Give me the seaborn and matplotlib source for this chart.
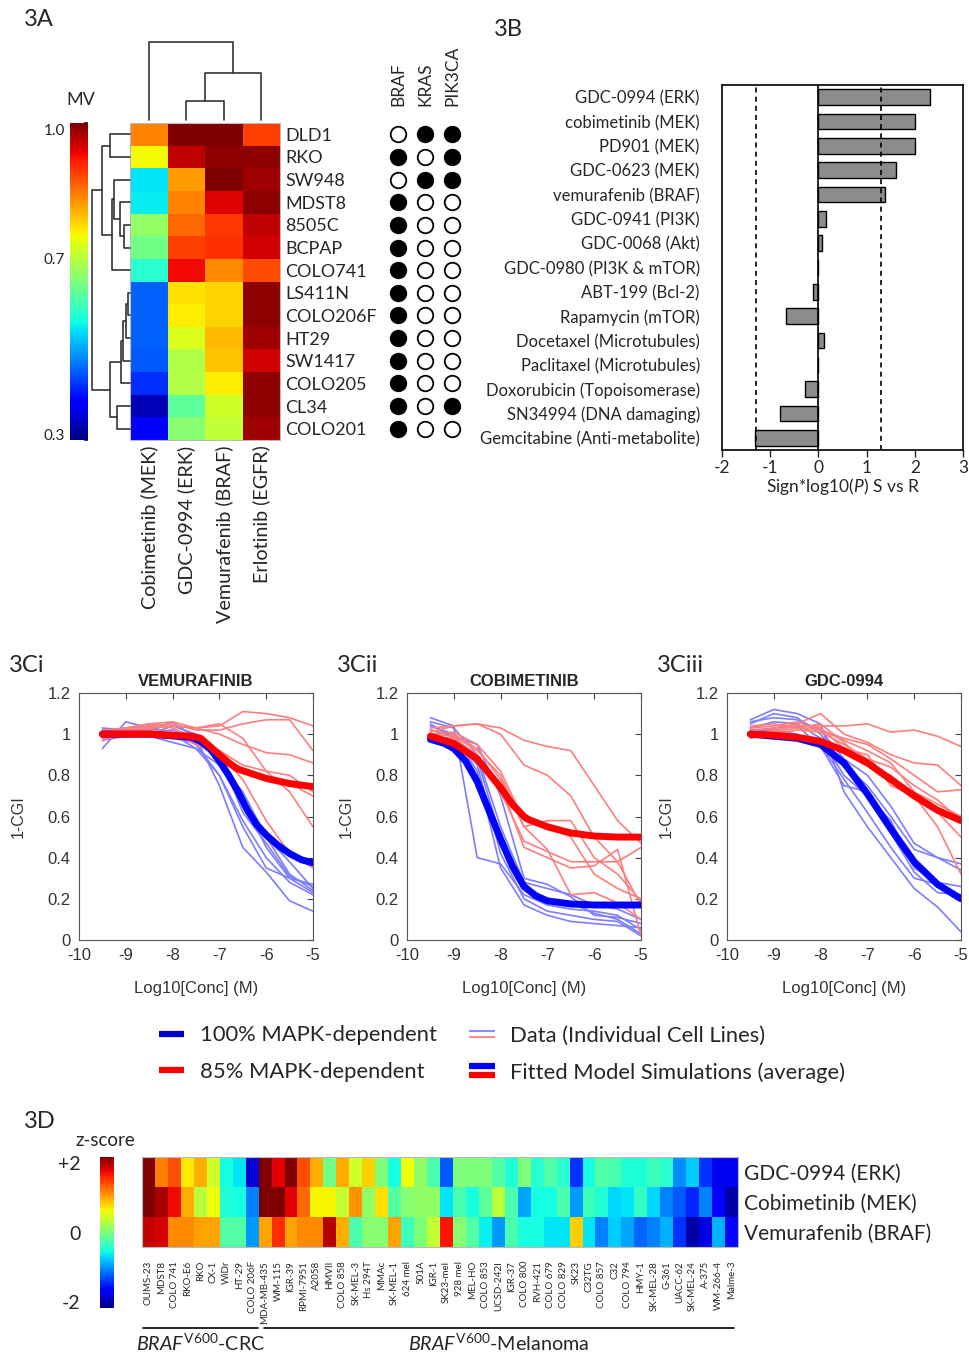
import numpy as np
import pandas as pd
import matplotlib
matplotlib.use("Agg")
import matplotlib.pyplot as plt
import matplotlib.transforms as mtransforms
from matplotlib.lines import Line2D
from matplotlib.legend_handler import HandlerBase
import seaborn as sns

# ---------------- 3A: mean viability heatmap ----------------
cell_lines = ["DLD1", "RKO", "SW948", "MDST8", "8505C", "BCPAP", "COLO741",
              "LS411N", "COLO206F", "HT29", "SW1417", "COLO205", "CL34", "COLO201"]
drugs_3a = ["Cobimetinib (MEK)", "GDC-0994 (ERK)", "Vemurafenib (BRAF)", "Erlotinib (EGFR)"]
mv_cobi = [0.84, 0.75, 0.545, 0.55, 0.67, 0.64, 0.58, 0.455, 0.455, 0.455, 0.45, 0.42, 0.335, 0.38]
mv_gdc = [1.0, 0.96, 0.82, 0.84, 0.86, 0.89, 0.93, 0.77, 0.76, 0.73, 0.694, 0.694, 0.624, 0.659]
mv_vemu = [1.0, 0.99, 1.0, 0.94, 0.895, 0.9, 0.834, 0.78, 0.78, 0.8, 0.79, 0.76, 0.72, 0.71]
mv_erlo = [0.89, 0.99, 0.98, 0.99, 0.96, 0.95, 0.88, 0.99, 0.99, 0.98, 0.95, 0.99, 0.99, 0.98]

# dendrogram merges: (left node, right node, height)
row_links = [(7, 8, 2), (14, 9, 4), (15, 10, 6.7), (16, 11, 9), (4, 5, 6), (3, 18, 10),
             (2, 19, 15.7), (20, 6, 18.3), (12, 13, 13.3), (0, 1, 20), (17, 22, 20),
             (23, 21, 27.3), (25, 24, 37.7)]
col_links = [(1, 2, 19), (4, 3, 47), (0, 5, 78)]

genes = ["BRAF", "KRAS", "PIK3CA"]
braf_mut = [0, 1, 0, 1, 1, 1, 1, 1, 1, 1, 1, 1, 1, 1]
kras_mut = [1, 0, 1, 0, 0, 0, 0, 0, 0, 0, 0, 0, 0, 0]
pik3ca_mut = [1, 1, 1, 0, 0, 0, 0, 0, 0, 0, 0, 0, 1, 0]

# ---------------- 3B: sensitivity bars ----------------
drugs_3b = ["GDC-0994 (ERK)", "cobimetinib (MEK)", "PD901 (MEK)", "GDC-0623 (MEK)",
            "vemurafenib (BRAF)", "GDC-0941 (PI3K)", "GDC-0068 (Akt)", "GDC-0980 (PI3K & mTOR)",
            "ABT-199 (Bcl-2)", "Rapamycin (mTOR)", "Docetaxel (Microtubules)",
            "Paclitaxel (Microtubules)", "Doxorubicin (Topoisomerase)",
            "SN34994 (DNA damaging)", "Gemcitabine (Anti-metabolite)"]
sign_logp = [2.31, 2.01, 2.01, 1.61, 1.38, 0.15, 0.08, 0.0, -0.12, -0.68, 0.11, 0.0, -0.28, -0.79, -1.32]
signif = 1.3

# ---------------- 3C: dose responses ----------------
conc = [-9.5, -9.0, -8.5, -8.0, -7.5, -7.0, -6.5, -6.0, -5.5, -5.0]

vemu_blue = [[0.93, 1.06, 1.03, 1.00, 0.95, 0.80, 0.55, 0.35, 0.30, 0.27],
             [1.02, 1.00, 0.99, 0.98, 0.96, 0.88, 0.68, 0.45, 0.30, 0.23],
             [0.98, 1.00, 1.02, 1.06, 0.98, 0.75, 0.45, 0.33, 0.19, 0.14],
             [1.03, 1.02, 0.99, 0.96, 0.93, 0.85, 0.66, 0.50, 0.38, 0.25],
             [1.00, 1.01, 1.00, 1.04, 1.00, 0.86, 0.72, 0.50, 0.32, 0.24],
             [0.97, 0.99, 1.01, 1.02, 0.97, 0.90, 0.62, 0.47, 0.31, 0.26],
             [1.01, 1.03, 1.04, 1.00, 0.93, 0.80, 0.58, 0.40, 0.28, 0.22]]
vemu_red = [[0.98, 1.02, 1.03, 1.04, 1.03, 1.04, 1.11, 1.10, 1.08, 1.04],
            [1.00, 1.02, 1.04, 1.05, 1.02, 1.02, 1.05, 1.07, 1.07, 0.92],
            [1.00, 1.03, 1.05, 1.06, 1.03, 1.00, 0.95, 0.91, 0.90, 0.86],
            [1.02, 1.03, 1.05, 1.03, 0.98, 0.92, 0.85, 0.82, 0.80, 0.72],
            [0.97, 1.01, 1.03, 1.04, 1.03, 1.05, 0.98, 0.82, 0.72, 0.55],
            [1.00, 1.02, 1.02, 1.01, 0.95, 0.90, 0.78, 0.58, 0.42, 0.35],
            [0.99, 1.00, 1.02, 1.00, 0.96, 0.92, 0.82, 0.78, 0.76, 0.70]]
vemu_fit_blue_x = [-9.5, -8.5, -7.6, -7.4, -7.2, -7.0, -6.8, -6.6, -6.4, -6.2, -6.0, -5.75, -5.5, -5.25, -5.0]
vemu_fit_blue_y = [1.0, 1.0, 0.985, 0.965, 0.93, 0.87, 0.80, 0.72, 0.63, 0.56, 0.51, 0.46, 0.42, 0.39, 0.375]
vemu_fit_red_x = [-9.5, -8.5, -7.6, -7.4, -7.2, -7.0, -6.8, -6.6, -6.4, -6.2, -6.0, -5.5, -5.0]
vemu_fit_red_y = [1.0, 1.0, 0.99, 0.98, 0.94, 0.90, 0.86, 0.83, 0.815, 0.80, 0.785, 0.76, 0.745]

cobi_blue = [[1.08, 1.04, 0.40, 0.37, 0.22, 0.17, 0.15, 0.14, 0.12, 0.05],
             [1.06, 1.03, 0.90, 0.55, 0.28, 0.25, 0.22, 0.17, 0.15, 0.10],
             [1.05, 0.98, 0.85, 0.42, 0.20, 0.14, 0.12, 0.10, 0.09, 0.02],
             [1.02, 0.99, 0.95, 0.70, 0.30, 0.27, 0.21, 0.12, 0.11, 0.08],
             [0.98, 0.95, 0.88, 0.50, 0.26, 0.20, 0.18, 0.13, 0.10, 0.03],
             [1.04, 1.00, 0.82, 0.35, 0.17, 0.12, 0.09, 0.08, 0.07, 0.06]]
cobi_red = [[1.03, 1.04, 1.05, 1.03, 0.97, 0.94, 0.92, 0.75, 0.58, 0.47],
            [1.01, 1.04, 1.05, 1.00, 0.85, 0.80, 0.70, 0.50, 0.38, 0.45],
            [1.00, 0.99, 0.92, 0.80, 0.55, 0.58, 0.58, 0.40, 0.32, 0.19],
            [0.99, 0.98, 0.90, 0.75, 0.45, 0.40, 0.35, 0.36, 0.44, 0.02],
            [1.02, 1.00, 0.93, 0.78, 0.55, 0.44, 0.22, 0.23, 0.18, 0.10],
            [0.98, 0.97, 0.88, 0.72, 0.48, 0.43, 0.38, 0.38, 0.38, 0.17],
            [1.00, 1.01, 0.95, 0.82, 0.58, 0.55, 0.50, 0.32, 0.25, 0.20]]
cobi_fit_blue_x = [-9.5, -9.2, -9.0, -8.75, -8.5, -8.25, -8.0, -7.75, -7.5, -7.25, -7.0, -6.5, -6.0, -5.5, -5.0]
cobi_fit_blue_y = [0.975, 0.955, 0.93, 0.87, 0.77, 0.63, 0.49, 0.36, 0.26, 0.215, 0.19, 0.175, 0.17, 0.17, 0.17]
cobi_fit_red_x = [-9.5, -9.0, -8.5, -8.0, -7.75, -7.5, -7.4, -7.0, -6.5, -6.0, -5.5, -5.0]
cobi_fit_red_y = [0.99, 0.955, 0.88, 0.74, 0.66, 0.60, 0.585, 0.55, 0.52, 0.505, 0.50, 0.50]

gdc_blue = [[1.07, 1.12, 1.10, 1.05, 0.72, 0.55, 0.40, 0.25, 0.16, 0.04],
            [1.05, 1.10, 1.08, 1.00, 0.85, 0.75, 0.60, 0.44, 0.40, 0.37],
            [1.03, 1.06, 1.05, 0.98, 0.80, 0.70, 0.58, 0.35, 0.28, 0.26],
            [1.02, 1.02, 1.00, 0.95, 0.78, 0.62, 0.45, 0.30, 0.27, 0.20],
            [1.06, 1.08, 1.07, 1.02, 0.88, 0.80, 0.65, 0.47, 0.40, 0.34],
            [1.00, 1.03, 1.04, 0.94, 0.75, 0.72, 0.52, 0.33, 0.23, 0.22]]
gdc_red = [[1.00, 1.02, 1.04, 1.04, 1.04, 1.05, 1.01, 1.02, 0.99, 0.94],
           [1.02, 1.03, 1.05, 1.10, 1.00, 0.96, 0.90, 0.86, 0.85, 0.75],
           [1.04, 1.05, 1.03, 1.02, 0.98, 0.95, 0.88, 0.80, 0.72, 0.73],
           [0.98, 1.00, 1.02, 1.01, 0.95, 0.88, 0.84, 0.75, 0.68, 0.58],
           [1.01, 1.01, 1.03, 1.05, 0.96, 0.85, 0.80, 0.70, 0.62, 0.50],
           [0.99, 1.02, 1.04, 1.03, 0.93, 0.90, 0.75, 0.70, 0.55, 0.32],
           [1.03, 1.04, 1.06, 1.02, 0.97, 0.92, 0.86, 0.72, 0.66, 0.60]]
gdc_fit_blue_x = [-9.5, -9.0, -8.5, -8.0, -7.5, -7.0, -6.5, -6.0, -5.5, -5.0]
gdc_fit_blue_y = [1.0, 0.99, 0.98, 0.95, 0.86, 0.71, 0.54, 0.38, 0.27, 0.20]
gdc_fit_red_x = [-9.5, -9.0, -8.5, -8.0, -7.5, -7.0, -6.5, -6.0, -5.5, -5.0]
gdc_fit_red_y = [1.0, 0.995, 0.985, 0.965, 0.92, 0.86, 0.78, 0.70, 0.63, 0.58]

# ---------------- 3D: z-score heatmap ----------------
lines_3d = ["OUMS-23", "MDST8", "COLO 741", "RKO-E6", "RKO", "CX-1", "WiDr", "HT-29", "COLO 206F",
            "MDA-MB-435", "WM-115", "IGR-39", "RPMI-7951", "A2058", "HMVII", "COLO 858", "SK-MEL-3",
            "Hs 294T", "MMAc", "SK-MEL-1", "624 mel", "501A", "IGR-1", "SK23-mel", "928 mel",
            "MEL-HO", "COLO 853", "UCSD-242l", "IGR-37", "COLO 800", "RVH-421", "COLO 679",
            "COLO 829", "SK23", "C32TG", "COLO 857", "C32", "COLO 794", "HMY-1", "SK-MEL-28",
            "G-361", "UACC-62", "SK-MEL-24", "A-375", "WM-266-4", "Malme-3"]
n_crc = 9
drugs_3d = ["GDC-0994 (ERK)", "Cobimetinib (MEK)", "Vemurafenib (BRAF)"]
z_gdc = [2.0, 1.1, 1.3, 0.65, 0.9, 0.4, -0.5, -0.6, -1.7,
         2.0, 1.65, 2.0, 1.3, 0.9, -0.05, 0.9, 0.4, 0.75, 0.0, -0.5, 0.55, 0.1, -0.25, -1.15,
         0.0, 0.0, 0.0, -0.2, -0.45, 0.0, -0.4, -0.2, -0.4, -1.3, -0.5, -0.2, -0.25, -0.45,
         -0.45, -0.3, -0.4, -0.95, -0.7, -1.3, -1.6, -1.6]
z_cobi = [2.0, 1.85, 1.6, 0.9, 0.3, 0.55, -0.45, -0.5, -1.0,
          2.0, 2.0, 1.65, 1.2, 0.6, 0.6, 0.35, 1.0, 0.1, 0.7, -0.2, 0.05, 0.1, 0.1, -0.6,
          -0.25, -0.5, -0.15, 0.3, -0.25, -0.85, -0.5, -0.5, -0.25, -0.9, -0.3, -0.45, -0.65,
          -0.6, -0.35, -0.65, -1.0, -1.15, -1.35, -1.0, -1.5, -1.85]
z_vemu = [1.75, 1.7, 1.05, 1.05, 0.95, 0.95, -0.2, -0.2, -0.9,
          0.95, 1.45, 0.95, 1.05, 1.05, 1.8, 0.9, -0.25, 0.05, 0.05, 0.95, -0.3, 0.0, 0.35, 1.55,
          0.05, -0.2, -0.55, -0.9, -0.25, -0.5, -0.5, -0.6, -0.6, 0.75, -0.6, -1.0, -0.7, -0.85,
          -1.1, -1.0, -0.8, -1.3, -1.85, -1.65, -0.8, -1.5]

# ---------------- style ----------------
sns.set_theme(style="white")
plt.rcParams["font.family"] = ["Lato", "DejaVu Sans"]
plt.rcParams["axes.unicode_minus"] = False
plt.rcParams["mathtext.fontset"] = "custom"
plt.rcParams["mathtext.rm"] = "Lato"
plt.rcParams["mathtext.it"] = "Lato:italic"
plt.rcParams["mathtext.bf"] = "Lato:bold"
ARIAL = ["Liberation Sans", "DejaVu Sans"]

W, H = 969, 1355
fig = plt.figure(figsize=(W / 100, H / 100), dpi=100)


def box(x0, y0, x1, y1):
    return [x0 / W, 1 - y1 / H, (x1 - x0) / W, (y1 - y0) / H]


def label(x, y, s, **kw):
    fig.text(x / W, 1 - y / H, s, va="center", **kw)


def nudge(ticklabels, offsets):
    # move colorbar end labels slightly inward (pixels, positive = down)
    for t, dy in zip(ticklabels, offsets):
        t.set_transform(t.get_transform() + mtransforms.ScaledTranslation(0, -dy / 100, fig.dpi_scale_trans))


def dendro(ax, links, n, side):
    pos = {i: i + 0.5 for i in range(n)}
    hgt = {i: 0.0 for i in range(n)}
    for k, (a, b, h) in enumerate(links):
        hs = [hgt[a], h, h, hgt[b]]
        ps = [pos[a], pos[a], pos[b], pos[b]]
        if side == "left":
            ax.plot(hs, ps, color="#333333", lw=1.2, clip_on=False)
        else:
            ax.plot(ps, hs, color="#333333", lw=1.2, clip_on=False)
        pos[n + k] = (pos[a] + pos[b]) / 2
        hgt[n + k] = h
    ax.axis("off")


# ---- 3A ----
label(24, 19, "3A", fontsize=17)
label(66, 100, "MV", fontsize=13)
mv = pd.DataFrame({drugs_3a[0]: mv_cobi, drugs_3a[1]: mv_gdc,
                   drugs_3a[2]: mv_vemu, drugs_3a[3]: mv_erlo}, index=cell_lines)
ax_a = fig.add_axes(box(130, 123, 280, 440))
cax_a = fig.add_axes(box(70, 123, 88, 440))
sns.heatmap(mv, ax=ax_a, cmap="jet", vmin=0.3, vmax=1.0, cbar_ax=cax_a)
ax_a.yaxis.tick_right()
ax_a.set_yticklabels(cell_lines, rotation=0, fontsize=13)
ax_a.set_xticklabels(drugs_3a, rotation=90, fontsize=14.2)
ax_a.tick_params(length=0, pad=4)
ax_a.set_xlabel("")
ax_a.set_ylabel("")
for s in ax_a.spines.values():
    s.set_visible(True)
    s.set_color("#bbbbbb")
    s.set_linewidth(0.8)
cax_a.set_yticks(np.round(np.arange(0.3, 1.01, 0.1), 1))
cax_a.set_yticklabels(["0.3", "", "", "", "0.7", "", "", "1.0"])
cax_a.tick_params(left=False, right=True, labelleft=True, labelright=False,
                  direction="in", length=3, labelsize=11)
nudge(cax_a.get_yticklabels(), (-6, 0, 0, 0, 0, 0, 0, 6))

ax_rd = fig.add_axes(box(92, 123, 130, 440))
ax_rd.set_ylim(len(cell_lines), 0)
ax_rd.set_xlim(37.7, 0)
dendro(ax_rd, row_links, len(cell_lines), "left")

ax_cd = fig.add_axes(box(130, 42, 280, 120))
ax_cd.set_xlim(0, len(drugs_3a))
ax_cd.set_ylim(0, 78)
dendro(ax_cd, col_links, len(drugs_3a), "top")

mut = pd.DataFrame({"BRAF": braf_mut, "KRAS": kras_mut, "PIK3CA": pik3ca_mut}, index=cell_lines)
mut_long = mut.reset_index().melt(id_vars="index", var_name="gene", value_name="mutated")
mut_long["gx"] = mut_long["gene"].map({g: i for i, g in enumerate(genes)})
mut_long["ry"] = mut_long["index"].map({c: i + 0.5 for i, c in enumerate(cell_lines)})
ax_m = fig.add_axes(box(384.5, 123, 465.5, 440))
sns.scatterplot(data=mut_long[mut_long.mutated == 1], x="gx", y="ry", color="black",
                s=125, edgecolor="black", linewidth=1.3, ax=ax_m, legend=False)
sns.scatterplot(data=mut_long[mut_long.mutated == 0], x="gx", y="ry", color="white",
                s=125, edgecolor="black", linewidth=1.3, ax=ax_m, legend=False)
ax_m.set_xlim(-0.5, 2.5)
ax_m.set_ylim(len(cell_lines), 0)
ax_m.set_xticks(range(3))
ax_m.set_xticklabels(genes, rotation=90, fontsize=12.5)
ax_m.xaxis.tick_top()
ax_m.set_yticks([])
ax_m.tick_params(length=0, pad=12)
ax_m.set_xlabel("")
ax_m.set_ylabel("")
for s in ax_m.spines.values():
    s.set_visible(False)

# ---- 3B ----
label(494, 30, "3B", fontsize=17)
ax_b = fig.add_axes(box(722, 85, 963, 450))
sns.barplot(x=sign_logp, y=drugs_3b, orient="h", color="#8c8c8c", saturation=1,
            edgecolor="black", linewidth=1.0, width=0.65, ax=ax_b)
ax_b.axvline(0, color="black", lw=1.2)
ax_b.axvline(signif, color="black", lw=1.2, ls=(0, (3, 2.5)))
ax_b.axvline(-signif, color="black", lw=1.2, ls=(0, (3, 2.5)))
ax_b.set_xlim(-2, 3)
ax_b.set_xticks(range(-2, 4))
ax_b.tick_params(axis="x", direction="out", length=5, width=1.0, bottom=True, labelsize=12.5, pad=2)
ax_b.tick_params(axis="y", length=0, labelsize=12, pad=16)
ax_b.set_xlabel("Sign*log10($\\mathit{P}$) S vs R", fontsize=12.5, labelpad=0)
for s in ax_b.spines.values():
    s.set_color("black")
    s.set_linewidth(1.2)

# ---- 3C ----
panels = [("3Ci", "VEMURAFINIB", 79, vemu_blue, vemu_red,
           vemu_fit_blue_x, vemu_fit_blue_y, vemu_fit_red_x, vemu_fit_red_y),
          ("3Cii", "COBIMETINIB", 407, cobi_blue, cobi_red,
           cobi_fit_blue_x, cobi_fit_blue_y, cobi_fit_red_x, cobi_fit_red_y),
          ("3Ciii", "GDC-0994", 727, gdc_blue, gdc_red,
           gdc_fit_blue_x, gdc_fit_blue_y, gdc_fit_red_x, gdc_fit_red_y)]


def to_long(rows):
    recs = []
    for i, r in enumerate(rows):
        for c, v in zip(conc, r):
            recs.append({"line": i, "conc": c, "resp": v})
    return pd.DataFrame(recs)


for tag, name, x0, blue, red, fbx, fby, frx, fry in panels:
    label(x0 - 70, 665, tag, fontsize=17)
    ax = fig.add_axes(box(x0, 693, x0 + 234, 940))
    sns.lineplot(data=to_long(blue), x="conc", y="resp", units="line", estimator=None,
                 color="#7d7dff", lw=1.2, ax=ax, legend=False)
    sns.lineplot(data=to_long(red), x="conc", y="resp", units="line", estimator=None,
                 color="#ff7d7d", lw=1.2, ax=ax, legend=False)
    sns.lineplot(x=fbx, y=fby, color="#0000ff", lw=5, errorbar=None, ax=ax)
    sns.lineplot(x=frx, y=fry, color="#ff0000", lw=5, errorbar=None, ax=ax)
    ax.set_xlim(-10, -5)
    ax.set_ylim(0, 1.2)
    ax.set_xticks(range(-10, -4))
    ax.set_xticklabels([str(v) for v in range(-10, -4)], family=ARIAL)
    ax.set_yticks([0, 0.2, 0.4, 0.6, 0.8, 1.0, 1.2])
    ax.set_yticklabels(["0", "0.2", "0.4", "0.6", "0.8", "1", "1.2"], family=ARIAL)
    ax.tick_params(direction="in", top=True, right=True, length=4, width=0.8, color="#444444",
                   labelsize=12, labelcolor="#333333", pad=6)
    for s in ax.spines.values():
        s.set_color("#555555")
        s.set_linewidth(0.8)
    ax.set_title(name, fontsize=12, fontweight="bold", family=ARIAL, pad=5)
    ax.set_ylabel("1-CGI", fontsize=11.5, family=ARIAL, color="#333333", labelpad=16)
    ax.set_xlabel("Log10[Conc] (M)", fontsize=12, family=ARIAL, color="#333333", labelpad=13)


class StackHandler(HandlerBase):
    def __init__(self, spread):
        super().__init__()
        self.spread = spread

    def create_artists(self, legend, orig_handle, xdescent, ydescent, width, height, fontsize, trans):
        out = []
        for h, frac in zip(orig_handle, (0.5 + self.spread, 0.5 - self.spread)):
            ln = Line2D([-xdescent, width - xdescent], [height * frac - ydescent] * 2,
                        color=h.get_color(), lw=h.get_linewidth(), solid_capstyle="butt")
            ln.set_transform(trans)
            out.append(ln)
        return out


class ThinPair(tuple):
    pass


class ThickPair(tuple):
    pass


h100 = Line2D([], [], color="#0000cc", lw=4.5, solid_capstyle="butt")
h85 = Line2D([], [], color="#ff0000", lw=4.5, solid_capstyle="butt")
thin = ThinPair((Line2D([], [], color="#8c8cff", lw=1.5), Line2D([], [], color="#ff8c8c", lw=1.5)))
thick = ThickPair((Line2D([], [], color="#0000ff", lw=4.5), Line2D([], [], color="#ff0000", lw=4.5)))
fig.legend(handles=[h100, h85, thin, thick],
           labels=["100% MAPK-dependent", "85% MAPK-dependent",
                   "Data (Individual Cell Lines)", "Fitted Model Simulations (average)"],
           handler_map={ThinPair: StackHandler(0.2), ThickPair: StackHandler(0.3)},
           ncol=2, loc="center", bbox_to_anchor=(502 / W, 1 - 1054 / H), frameon=False,
           fontsize=15.8, handlelength=1.15, handletextpad=0.7, columnspacing=1.5, labelspacing=0.75)

# ---- 3D ----
label(24, 1122, "3D", fontsize=17)
label(75, 1140, "z-score", fontsize=13.5)
z = pd.DataFrame([z_gdc, z_cobi, z_vemu], index=drugs_3d, columns=lines_3d)
ax_d = fig.add_axes(box(142, 1157, 738, 1247))
cax_d = fig.add_axes(box(100, 1157, 114, 1308))
sns.heatmap(z, ax=ax_d, cmap="jet", vmin=-2, vmax=2, cbar_ax=cax_d,
            xticklabels=True, yticklabels=True)
ax_d.yaxis.tick_right()
ax_d.set_yticklabels(drugs_3d, rotation=0, fontsize=15)
ax_d.set_xticklabels(lines_3d, rotation=90, fontsize=7)
ax_d.tick_params(axis="x", length=0, pad=10)
ax_d.tick_params(axis="y", length=0, pad=4)
ax_d.set_xlabel("")
ax_d.set_ylabel("")
for s in ax_d.spines.values():
    s.set_visible(True)
    s.set_color("#bbbbbb")
    s.set_linewidth(0.8)
cax_d.set_yticks([-2, 0, 2])
cax_d.set_yticklabels(["-2", "0", "+2"])
cax_d.tick_params(left=False, right=False, labelleft=True, labelright=False, labelsize=14, pad=8)
nudge(cax_d.get_yticklabels(), (-6, 0, 6))

trans = mtransforms.blended_transform_factory(ax_d.transData, fig.transFigure)
y_line = 1 - 1328 / H
ax_d.plot([0.05, n_crc - 0.05], [y_line, y_line], color="black", lw=1.2, transform=trans, clip_on=False)
ax_d.plot([n_crc + 0.45, len(lines_3d) - 0.3], [y_line, y_line], color="black", lw=1.2,
          transform=trans, clip_on=False)
ax_d.text(n_crc / 2, 1 - 1343 / H, "$\\mathit{BRAF}^{\\mathrm{V600}}$-CRC", transform=trans,
          ha="center", va="center", fontsize=14.2)
ax_d.text((n_crc + len(lines_3d)) / 2, 1 - 1343 / H, "$\\mathit{BRAF}^{\\mathrm{V600}}$-Melanoma",
          transform=trans, ha="center", va="center", fontsize=14.2)

fig.savefig("out.png", dpi=100)
